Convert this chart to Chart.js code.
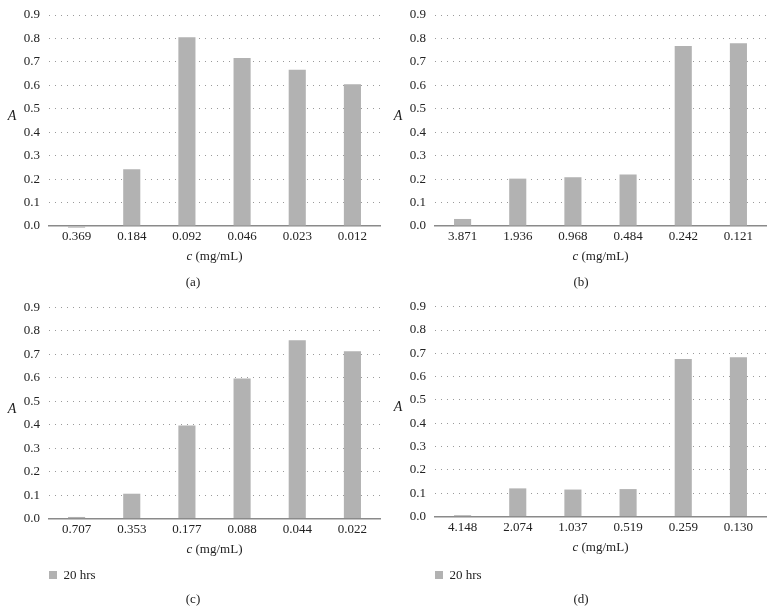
<!DOCTYPE html>
<html><head><meta charset="utf-8">
<script src="https://cdn.jsdelivr.net/npm/chart.js@4"></script>
<style>
html,body{margin:0;padding:0;background:#fff;width:776px;height:614px;overflow:hidden}
.p{position:absolute}
</style></head><body>
<div class="p" style="left:0;top:0;width:386px;height:300px"><canvas id="ca"></canvas></div>
<div class="p" style="left:386px;top:0;width:390px;height:300px"><canvas id="cb"></canvas></div>
<div class="p" style="left:0;top:300px;width:386px;height:314px"><canvas id="cc"></canvas></div>
<div class="p" style="left:386px;top:300px;width:390px;height:314px"><canvas id="cd"></canvas></div>
<script>
// ---- data ----
const labelsA = ['0.369','0.184','0.092','0.046','0.023','0.012'];
const valuesA = [-0.007, 0.242, 0.805, 0.717, 0.667, 0.605];
const labelsB = ['3.871','1.936','0.968','0.484','0.242','0.121'];
const valuesB = [0.030, 0.202, 0.208, 0.220, 0.768, 0.780];
const labelsC = ['0.707','0.353','0.177','0.088','0.044','0.022'];
const valuesC = [0.007, 0.106, 0.397, 0.597, 0.760, 0.713];
const labelsD = ['4.148','2.074','1.037','0.519','0.259','0.130'];
const valuesD = [0.006, 0.121, 0.116, 0.118, 0.676, 0.683];
const seriesName = '20 hrs';
const captions = ['(a)','(b)','(c)','(d)'];
const yMin = 0, yMax = 0.9, yStep = 0.1;

const FONT = '"Liberation Serif", "DejaVu Serif", serif';
const TXT = '#222';
const BAR = '#b2b2b2';

const annot = {
  id: 'annot',
  afterDraw(chart, args, opts) {
    const {ctx, chartArea: ca} = chart;
    ctx.save();
    ctx.fillStyle = TXT;
    ctx.textBaseline = 'middle';
    // y label
    ctx.textAlign = 'center';
    ctx.font = 'italic 14px ' + FONT;
    ctx.fillText('A', 12, (ca.top + ca.bottom) / 2 - 4);
    // x title with italic c
    const t1 = 'c', t2 = ' (mg/mL)';
    ctx.font = 'italic 13px ' + FONT;
    const w1 = ctx.measureText(t1).width;
    ctx.font = '13px ' + FONT;
    const w2 = ctx.measureText(t2).width;
    const cx = (ca.left + ca.right) / 2;
    const x0 = cx - (w1 + w2) / 2;
    const ty = ca.bottom + 31;
    ctx.textAlign = 'left';
    ctx.font = 'italic 13px ' + FONT;
    ctx.fillText(t1, x0, ty);
    ctx.font = '13px ' + FONT;
    ctx.fillText(t2, x0 + w1, ty);
    // caption
    ctx.textAlign = 'center';
    ctx.font = '13px ' + FONT;
    ctx.fillText(opts.caption, chart.width / 2, opts.captionY);
    ctx.restore();
  }
};

function makeChart(id, labels, values, cfg) {
  return new Chart(document.getElementById(id), {
    type: 'bar',
    data: {
      labels: labels,
      datasets: [{
        label: seriesName,
        data: values,
        backgroundColor: BAR,
        borderWidth: 0,
        categoryPercentage: 1,
        barPercentage: 0.31,
        clip: false
      }]
    },
    options: {
      responsive: true,
      maintainAspectRatio: false,
      animation: false,
      layout: { padding: { left: 0, top: cfg.padTop, right: cfg.padRight, bottom: cfg.padBottom } },
      scales: {
        x: {
          grid: { display: false, drawTicks: false },
          border: { display: true, color: '#8a8a8a', width: 1.5 },
          ticks: { color: TXT, font: { family: FONT, size: 13 }, padding: 3, maxRotation: 0 },
          afterFit(s) { s.height = cfg.xH; }
        },
        y: {
          min: yMin, max: yMax,
          grid: {
            drawTicks: false,
            lineWidth: 1,
            color: (c) => (c.tick && Math.abs(c.tick.value) < 1e-9) ? 'rgba(0,0,0,0)' : '#9a9a9a'
          },
          border: { display: false, dash: [1, 5] },
          ticks: {
            stepSize: yStep, color: TXT, padding: 9,
            font: { family: FONT, size: 13 },
            callback: (v) => Number(v).toFixed(1)
          },
          afterFit(s) { s.width = 49; s.paddingTop = 0; s.paddingBottom = 0; }
        }
      },
      plugins: {
        legend: {
          display: cfg.legend,
          position: 'bottom',
          align: 'start',
          fullSize: false,
          labels: { boxWidth: 8, boxHeight: 8, padding: 0, color: TXT, font: { family: FONT, size: 13 } }
        },
        tooltip: { enabled: false },
        annot: { caption: cfg.caption, captionY: cfg.captionY }
      }
    },
    plugins: [annot]
  });
}

makeChart('ca', labelsA, valuesA, { padTop: 15, padRight: 6, padBottom: 34, xH: 40, legend: false, caption: captions[0], captionY: 283 });
makeChart('cb', labelsB, valuesB, { padTop: 15, padRight: 10, padBottom: 34, xH: 40, legend: false, caption: captions[1], captionY: 283 });
makeChart('cc', labelsC, valuesC, { padTop: 7.3, padRight: 6, padBottom: 22.4, xH: 50, legend: true, caption: captions[2], captionY: 300 });
makeChart('cd', labelsD, valuesD, { padTop: 6.7, padRight: 10, padBottom: 22.4, xH: 52, legend: true, caption: captions[3], captionY: 300 });
</script>
</body></html>
